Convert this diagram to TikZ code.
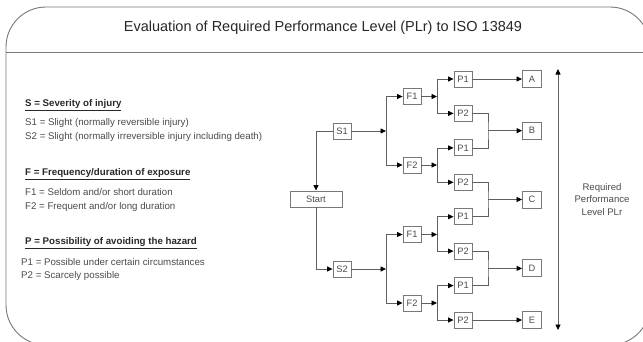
\documentclass[tikz,border=0pt]{standalone}
\usepackage{fontspec}
\setmainfont{Liberation Sans}
\usetikzlibrary{arrows.meta}
\definecolor{lineg}{RGB}{95,95,95}
\definecolor{boxg}{RGB}{120,120,120}
\definecolor{txtg}{RGB}{75,75,75}
\definecolor{titg}{RGB}{40,40,40}
\begin{document}
\begin{tikzpicture}[x=1pt,y=-1pt,
  box/.style={draw=boxg,fill=white,line width=0.9pt,inner sep=0pt,minimum width=18pt,minimum height=16pt,font=\fontsize{9.3}{10}\selectfont,text=txtg},
  obox/.style={box,minimum width=19pt,minimum height=17pt},
  conn/.style={draw=lineg,line width=0.8pt},
  arr/.style={conn,-{Triangle[length=5.5pt,width=5pt,color=black]}},
  legend/.style={anchor=west,inner sep=0pt,text=txtg,font=\fontsize{9.7}{11}\selectfont},
  head/.style={anchor=west,inner sep=0pt,text=titg,font=\fontsize{9.7}{11}\selectfont\bfseries}
]
\useasboundingbox (0,0) rectangle (643,341);
\clip (0,0) rectangle (643,341);
\fill[white] (0,0) rectangle (643,341);
% frame
\draw[draw=boxg,line width=0.9pt,rounded corners=40pt] (6,7) rectangle (650,345);
\draw[draw=boxg,line width=0.9pt] (6,52) -- (650,52);
\node[text=titg,font=\fontsize{14.5}{17}\selectfont] (title) at (323,28) {Evaluation of Required Performance Level (PLr) to ISO 13849};
% legend
\node[head] (hS) at (25,105) {\underline{S = Severity of injury}};
\node[legend] (s1t) at (25,123) {S1 = Slight (normally reversible injury)};
\node[legend] (s2t) at (25,137) {S2 = Slight (normally irreversible injury including death)};
\node[head] (hF) at (25,174) {\underline{F = Frequency/duration of exposure}};
\node[legend] (f1t) at (25,192) {F1 = Seldom and/or short duration};
\node[legend] (f2t) at (25,207) {F2 = Frequent and/or long duration};
\node[head] (hP) at (25,243) {\underline{P = Possibility of avoiding the hazard}};
\node[legend] (p1t) at (21,262) {P1 = Possible under certain circumstances};
\node[legend] (p2t) at (21,276) {P2 = Scarcely possible};
% nodes
\node[box,minimum width=52pt] (start) at (316,199) {Start};
\node[box] (s1) at (342,131) {S1};
\node[box] (s2) at (342,269) {S2};
\node[box] (f11) at (412,96.5) {F1};
\node[box] (f12) at (412,165) {F2};
\node[box] (f21) at (412,234.5) {F1};
\node[box] (f22) at (412,303) {F2};
\node[box] (p1) at (463,79) {P1};
\node[box] (p2) at (463,113.4) {P2};
\node[box] (p3) at (463,147.9) {P1};
\node[box] (p4) at (463,182.3) {P2};
\node[box] (p5) at (463,216.7) {P1};
\node[box] (p6) at (463,251.1) {P2};
\node[box] (p7) at (463,285.6) {P1};
\node[box] (p8) at (463,320) {P2};
\node[obox] (oA) at (532,79) {A};
\node[obox] (oB) at (532,130.7) {B};
\node[obox] (oC) at (532,199.5) {C};
\node[obox] (oD) at (532,268.4) {D};
\node[obox] (oE) at (532,320) {E};
% junctions
\coordinate (js1) at (386,131);
\coordinate (js2) at (386,269);
\coordinate (jf11) at (437,96.5);
\coordinate (jf12) at (437,165);
\coordinate (jf21) at (437,234.5);
\coordinate (jf22) at (437,303);
\coordinate (mB) at (488,130.7);
\coordinate (mC) at (488,199.5);
\coordinate (mD) at (488,268.4);
\coordinate (plrT) at (558,69);
\coordinate (plrB) at (558,330);
% start
\draw[arr] (s1.west) -| (start.north);
\draw[arr] (start.south) |- (s2.west);
% S level
\draw[arr] (s1.east) -- (js1);
\draw[arr] (js1) |- (f11.west);
\draw[arr] (js1) |- (f12.west);
\draw[arr] (s2.east) -- (js2);
\draw[arr] (js2) |- (f21.west);
\draw[arr] (js2) |- (f22.west);
% F level
\draw[arr] (f11.east) -- (jf11);
\draw[arr] (jf11) |- (p1.west);
\draw[arr] (jf11) |- (p2.west);
\draw[arr] (f12.east) -- (jf12);
\draw[arr] (jf12) |- (p3.west);
\draw[arr] (jf12) |- (p4.west);
\draw[arr] (f21.east) -- (jf21);
\draw[arr] (jf21) |- (p5.west);
\draw[arr] (jf21) |- (p6.west);
\draw[arr] (f22.east) -- (jf22);
\draw[arr] (jf22) |- (p7.west);
\draw[arr] (jf22) |- (p8.west);
% outcomes
\draw[arr] (p1.east) -- (oA.west);
\draw[conn] (p2.east) -| (mB) |- (p3.east);
\draw[arr,line width=1.2pt] (mB) -- (oB.west);
\draw[conn] (p4.east) -| (mC) |- (p5.east);
\draw[arr] (mC) -- (oC.west);
\draw[conn] (p6.east) -| (mD) |- (p7.east);
\draw[arr,line width=1.2pt] (mD) -- (oD.west);
\draw[arr] (p8.east) -- (oE.west);
% PLr scale
\draw[conn,{Triangle[length=5.5pt,width=5pt,color=black]}-{Triangle[length=5.5pt,width=5pt,color=black]}] (plrT) -- (plrB);
\node[align=center,text=txtg,font=\fontsize{9.6}{12.5}\selectfont] (plr) at (602,199.5) {Required\\Performance\\Level PLr};
\end{tikzpicture}
\end{document}
